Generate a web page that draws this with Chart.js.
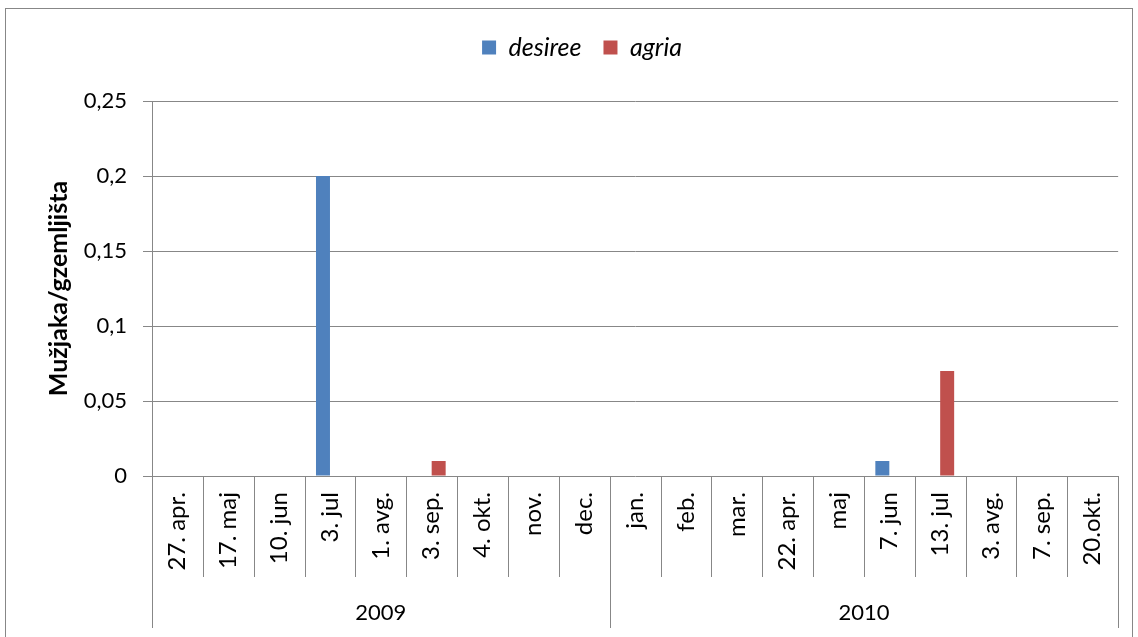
<!DOCTYPE html>
<html lang="sr">
<head>
  <meta charset="UTF-8" />
  <title>Mužjaka/gzemljišta</title>
  <script src="https://cdn.jsdelivr.net/npm/chart.js"></script>
  <style>
    html, body { margin: 0; padding: 0; background: #fff; }
    .wrap { position: relative; width: 1138px; height: 637px; }
  </style>
</head>
<body>
<div class="wrap"><canvas id="chart"></canvas></div>
<script>
  // category labels (two-level axis: dates, then year)
  const dates = ['27. apr.', '17. maj', '10. jun', '3. jul', '1. avg.', '3. sep.', '4. okt.', 'nov.', 'dec.',
                 'jan.', 'feb.', 'mar.', '22. apr.', 'maj', '7. jun', '13. jul', '3. avg.', '7. sep.', '20.okt.'];
  const years = ['2009', '2010'];
  const yearCounts = [9, 10];

  const desiree = [0, 0, 0, 0.2, 0, 0, 0, 0, 0, 0, 0, 0, 0, 0, 0.01, 0, 0, 0, 0];
  const agria   = [0, 0, 0, 0, 0, 0.01, 0, 0, 0, 0, 0, 0, 0, 0, 0, 0.07, 0, 0, 0];

  const yTicks = ['0', '0,05', '0,1', '0,15', '0,2', '0,25'];

  const lineColor = '#878787';
  Chart.defaults.font.family = 'Lato, "Open Sans", sans-serif';
  Chart.defaults.color = '#000';

  // draws the outer frame, category separators and the year row
  const excelAxis = {
    id: 'excelAxis',
    beforeDraw(chart) {
      const c = chart.ctx;
      c.save();
      c.strokeStyle = lineColor;
      c.lineWidth = 1;
      c.strokeRect(5.5, 8.5, 1127, 660);
      c.restore();
    },
    afterDraw(chart) {
      const c = chart.ctx;
      const x = chart.scales.x;
      const area = chart.chartArea;
      const step = (x.right - x.left) / dates.length;
      const top = area.bottom;
      c.save();
      c.strokeStyle = lineColor;
      c.lineWidth = 1;
      let bounds = [0];
      let n = 0;
      yearCounts.forEach(k => { n += k; bounds.push(n); });
      for (let i = 0; i <= dates.length; i++) {
        const px = Math.round(x.left + i * step) + 0.5;
        const long = bounds.includes(i);
        c.beginPath();
        c.moveTo(px, top);
        c.lineTo(px, long ? top + 152 : top + 101);
        c.stroke();
      }
      c.font = '22px Lato';
      c.fillStyle = '#000';
      c.textAlign = 'center';
      c.textBaseline = 'middle';
      years.forEach((y, j) => {
        const a = x.getPixelForValue(bounds[j]);
        const b = x.getPixelForValue(bounds[j + 1] - 1);
        c.fillText(y, (a + b) / 2, top + 137);
      });
      c.restore();
    }
  };

  new Chart(document.getElementById('chart'), {
    type: 'bar',
    data: {
      labels: dates,
      datasets: [
        { label: 'desiree', data: desiree, backgroundColor: '#4F81BD', categoryPercentage: 0.55, barPercentage: 1 },
        { label: 'agria', data: agria, backgroundColor: '#C0504D', categoryPercentage: 0.55, barPercentage: 1 }
      ]
    },
    options: {
      responsive: true,
      maintainAspectRatio: false,
      animation: false,
      layout: { padding: { left: 44, right: 18, top: 13, bottom: 0 } },
      plugins: {
        legend: {
          position: 'top',
          labels: {
            boxWidth: 14, boxHeight: 14, padding: 22,
            font: { size: 25, style: 'italic' }
          }
        },
        // empty spacer placed between legend and plot
        title: { display: true, text: '', weight: 100, font: { size: 10 }, padding: { top: 10, bottom: 9 } },
        tooltip: { enabled: false }
      },
      scales: {
        x: {
          grid: { display: false, drawTicks: false },
          border: { display: false },
          ticks: { maxRotation: 90, minRotation: 90, autoSkip: false, padding: 16, font: { size: 24 } },
          afterFit(scale) { scale.height = 161; }
        },
        y: {
          min: 0, max: 0.25,
          grid: { color: lineColor, tickLength: 9, drawTicks: true },
          border: { color: lineColor },
          ticks: {
            stepSize: 0.05, padding: 16, font: { size: 22 },
            callback: (v, i) => yTicks[i]
          },
          title: { display: true, text: 'Mužjaka/gzemljišta', font: { size: 25, weight: 'bold' }, padding: 0 },
          afterFit(scale) { scale.width = 108; }
        }
      }
    },
    plugins: [excelAxis]
  });
</script>
</body>
</html>
